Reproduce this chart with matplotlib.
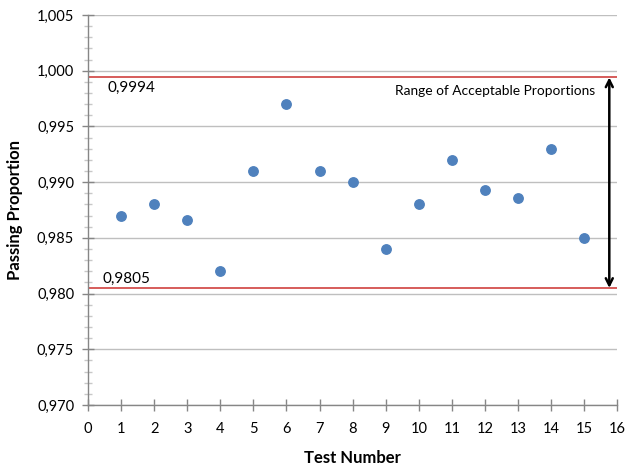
import matplotlib
matplotlib.use('Agg')
import matplotlib.pyplot as plt
import matplotlib.ticker as ticker

# data
tests = [1, 2, 3, 4, 5, 6, 7, 8, 9, 10, 11, 12, 13, 14, 15]
proportion = [0.987, 0.988, 0.9866, 0.982, 0.991, 0.997, 0.991, 0.990,
              0.984, 0.988, 0.992, 0.9893, 0.9886, 0.993, 0.985]
upper_limit = 0.9994
lower_limit = 0.9805
upper_label = '0,9994'
lower_label = '0,9805'
range_text = 'Range of Acceptable Proportions'

plt.rcParams['font.family'] = ['Lato', 'DejaVu Sans']

fig = plt.figure(figsize=(6.26, 4.68), dpi=100)
fig.set_facecolor('white')
ax = fig.add_axes([0.1406, 0.1346, 0.8454, 0.8334])

grid_c = '#bfbfbf'
axis_c = '#868686'

ax.set_xlim(0, 16)
ax.set_ylim(0.970, 1.005)
ax.yaxis.set_major_locator(ticker.MultipleLocator(0.005))
ax.yaxis.set_minor_locator(ticker.MultipleLocator(0.001))
ax.xaxis.set_major_locator(ticker.MultipleLocator(1))
ax.yaxis.set_major_formatter(ticker.FuncFormatter(lambda v, p: ('%.3f' % v).replace('.', ',')))

ax.grid(axis='y', which='major', color=grid_c, linewidth=1.0, zorder=0)
ax.set_axisbelow(True)
for s in ['top', 'right']:
    ax.spines[s].set_color('none')
for s in ['left', 'bottom']:
    ax.spines[s].set_color(axis_c)
    ax.spines[s].set_linewidth(1.0)

ax.tick_params(which='major', direction='inout', length=8, width=1, color=axis_c,
               labelsize=10.5, labelcolor='#000000')
ax.tick_params(which='minor', direction='inout', length=6, width=1, color='#c8c8c8')
ax.tick_params(axis='x', pad=8)
ax.tick_params(axis='y', pad=6)

# limit lines
ax.plot([0, 16], [upper_limit, upper_limit], color='#d0413e', linewidth=1.2, zorder=2)
ax.plot([0, 16], [lower_limit, lower_limit], color='#d0413e', linewidth=1.2, zorder=2)
ax.text(0.6, upper_limit - 0.0003, upper_label, fontsize=11, ha='left', va='top')
ax.text(0.45, lower_limit + 0.0002, lower_label, fontsize=11, ha='left', va='bottom')

# points
ax.plot(tests, proportion, 'o', color='#4f81bd', markersize=6.8, zorder=3)

# range arrow
ax.annotate('', xy=(15.76, lower_limit), xytext=(15.76, upper_limit),
            arrowprops=dict(arrowstyle='<->,head_length=0.5,head_width=0.25', color='black',
                            lw=1.8, shrinkA=0, shrinkB=0))
ax.text(12.3, 0.9982, range_text, fontsize=9.9, ha='center', va='center')

ax.set_xlabel('Test Number', fontsize=12, fontweight='bold', labelpad=10)
ax.set_ylabel('Passing Proportion', fontsize=12, fontweight='bold', labelpad=10)

fig.savefig('out.png', dpi=100, facecolor='white')
